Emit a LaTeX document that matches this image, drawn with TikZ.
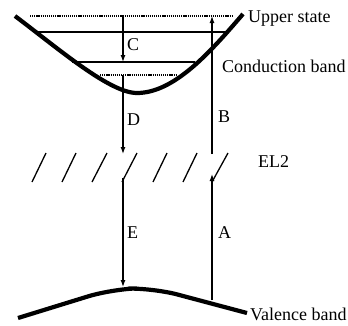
\documentclass[tikz,border=0pt]{standalone}
\usepackage{fontspec}
\setmainfont{Liberation Serif}
\usetikzlibrary{arrows.meta}
\begin{document}
\begin{tikzpicture}[x=1pt,y=-1pt,
  band/.style={line width=4.2pt},
  level/.style={line width=1.1pt},
  dotlevel/.style={line width=1.1pt, dash pattern=on 1.2pt off 0.9pt},
  trans/.style={line width=1.2pt, -{Latex[length=7pt,width=5pt]}},
  slash/.style={line width=1.3pt},
  lbl/.style={font=\fontsize{18}{18}\selectfont, inner sep=0pt, anchor=base west},
]
\useasboundingbox (0,0) rectangle (348,325);
% bands
\draw[band] (15,16) .. controls (60,50) and (110,93) .. (137,93)
                    .. controls (175,93) and (212,50) .. (243,14);
\draw[band, rounded corners=25pt] (18,318) -- (112,289) -- (153,288) -- (247,313);
% levels
\draw[dotlevel] (30,16) -- (232,16);
\draw[level] (35,32) -- (228,32);
\draw[level] (72,62) -- (195,62);
\draw[dotlevel] (100,75) -- (177,75);
% EL2 slashes
\foreach \b/\t in {32/46,62/76,92/107,122/137,153/167,183/197,212/228}
  \draw[slash] (\b,182) -- (\t,153);
% coordinates
\coordinate (cTop) at (123,16);
\coordinate (cBot) at (123,62);
\coordinate (dTop) at (123,75);
\coordinate (dBot) at (123,154);
\coordinate (eTop) at (123,178);
\coordinate (eBot) at (123,287);
\coordinate (bBot) at (212,154);
\coordinate (bTop) at (212,16);
\coordinate (aBot) at (212,300);
\coordinate (aTop) at (212,174);
% transitions
\draw[trans] (cTop) -- (cBot);
\draw[trans] (dTop) -- (dBot);
\draw[trans] (eTop) -- (eBot);
\draw[trans] (bBot) -- (bTop);
\draw[trans] (aBot) -- (aTop);
% labels
\node[lbl] (lC) at (127,50) {C};
\node[lbl] (lD) at (127,125) {D};
\node[lbl] (lE) at (127,238) {E};
\node[lbl] (lB) at (218,122) {B};
\node[lbl] (lA) at (218,238) {A};
\node[lbl] (lEL) at (258,167) {EL2};
\node[lbl] (lUp) at (248,22) {Upper state};
\node[lbl] (lCB) at (222,72) {Conduction band};
\node[lbl] (lVB) at (250,320) {Valence band};
\end{tikzpicture}
\end{document}
